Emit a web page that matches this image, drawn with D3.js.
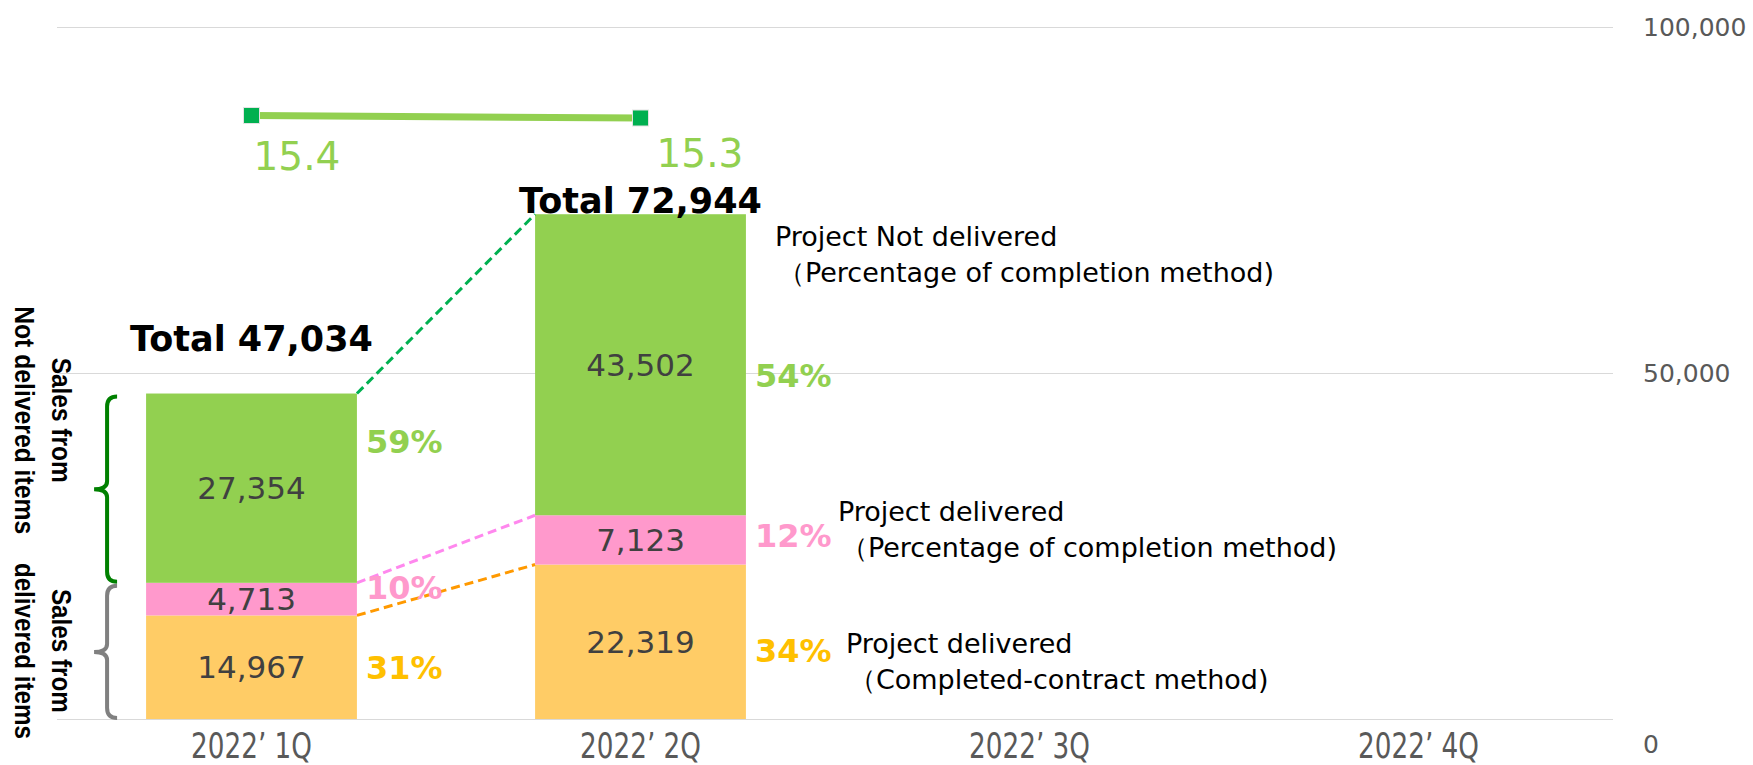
<!DOCTYPE html>
<html>
<head>
<meta charset="utf-8">
<script src="https://cdn.jsdelivr.net/npm/d3@7"></script>
<style>
  body { margin: 0; background: #fff; }
</style>
</head>
<body>
<div id="chart"></div>
<script>

// data
var categories = ["2022’ 1Q", "2022’ 2Q", "2022’ 3Q", "2022’ 4Q"];
var completedContract = [14967, 22319];   // Project delivered (Completed-contract)
var deliveredPoc = [4713, 7123];          // Project delivered (Percentage of completion)
var notDeliveredPoc = [27354, 43502];     // Project Not delivered (Percentage of completion)
var totals = [47034, 72944];
var pctCompleted = [31, 34];
var pctDelivered = [10, 12];
var pctNotDelivered = [59, 54];
var ratioValues = [15.4, 15.3];
var yTicks = [0, 50000, 100000];

var seriesKeys = ["completed", "delivered", "notDelivered"];
var seriesColor = {completed: "#FFCC66", delivered: "#FF99CC", notDelivered: "#92D050"};
var pctColor = {completed: "#FFC000", delivered: "#FF99CC", notDelivered: "#92D050"};
var dashColor = {completed: "#FF9900", delivered: "#FF88EE", notDelivered: "#00B050"};

// set the dimensions and margins of the graph
var margin = {top: 27, right: 140, bottom: 46, left: 57},
    width = 1753 - margin.left - margin.right,
    height = 765 - margin.top - margin.bottom;

var root = d3.select("#chart")
    .append("svg")
    .attr("width", 1753)
    .attr("height", 765);

var svg = root.append("g")
    .attr("transform", "translate(" + margin.left + "," + margin.top + ")");

// table for the stack
var table = completedContract.map(function(d, i) {
    return {
        cat: categories[i],
        completed: completedContract[i],
        delivered: deliveredPoc[i],
        notDelivered: notDeliveredPoc[i]
    };
});
var pcts = {completed: pctCompleted, delivered: pctDelivered, notDelivered: pctNotDelivered};

var stacked = d3.stack().keys(seriesKeys)(table);

// scales
var x = d3.scaleBand()
    .domain(categories)
    .range([0, width])
    .paddingInner(0.458)
    .paddingOuter(0.229);
var bw = x.bandwidth();

var y = d3.scaleLinear()
    .domain([0, 100000])
    .range([height, 0]);

// hidden secondary axis for the ratio line
var y2 = d3.scaleLinear()
    .domain([-8.74, 18.94])
    .range([height, 0]);

// grid + right axis
var yAxis = d3.axisRight(y)
    .tickValues(yTicks)
    .tickSize(-width)
    .tickPadding(30)
    .tickFormat(d3.format(","));

var gy = svg.append("g")
    .attr("class", "y axis")
    .attr("transform", "translate(" + width + ",0)")
    .call(yAxis);
gy.select(".domain").remove();
gy.selectAll("line").attr("stroke", "#d9d9d9").attr("stroke-width", 1);
gy.selectAll("text")
    .attr("fill", "#595959")
    .style("font-size", "25px")
    .style("font-family", "DejaVu Sans");
// the 0 label sits lower in the original
gy.selectAll(".tick text").filter(function(d) { return d === 0; }).attr("dy", "1.35em");

// x labels
svg.append("g")
    .selectAll("text")
    .data(categories)
    .enter()
    .append("text")
    .attr("x", function(d) { return x(d) + bw / 2; })
    .attr("y", height + 39)
    .attr("text-anchor", "middle")
    .attr("fill", "#595959")
    .attr("textLength", 121)
    .attr("lengthAdjust", "spacingAndGlyphs")
    .style("font-size", "36px")
    .style("font-family", "'Liberation Sans Narrow', 'DejaVu Sans Condensed', sans-serif")
    .text(function(d) { return d; });

// stacked bars
var layers = svg.selectAll(".layer")
    .data(stacked)
    .enter()
    .append("g")
    .attr("class", "layer")
    .attr("fill", function(d) { return seriesColor[d.key]; });

layers.selectAll("rect")
    .data(function(d) { return d; })
    .enter()
    .append("rect")
    .attr("x", function(d) { return x(d.data.cat); })
    .attr("y", function(d) { return y(d[1]); })
    .attr("width", bw)
    .attr("height", function(d) { return y(d[0]) - y(d[1]); });

// segment values
layers.selectAll("text.val")
    .data(function(d) { return d; })
    .enter()
    .append("text")
    .attr("class", "val")
    .attr("x", function(d) { return x(d.data.cat) + bw / 2; })
    .attr("y", function(d) { return y((d[0] + d[1]) / 2); })
    .attr("dy", "0.36em")
    .attr("text-anchor", "middle")
    .attr("fill", "#404040")
    .style("font-size", "31px")
    .style("font-family", "DejaVu Sans")
    .text(function(d) { return d3.format(",")(d[1] - d[0]); });

// dashed connectors between bar 1 and bar 2
layers.append("line")
    .attr("x1", function(d) { return x(categories[0]) + bw; })
    .attr("y1", function(d) { return y(d[0][1]); })
    .attr("x2", function(d) { return x(categories[1]); })
    .attr("y2", function(d) { return y(d[1][1]); })
    .attr("stroke", function(d) { return dashColor[d.key]; })
    .attr("stroke-width", 3)
    .style("stroke-dasharray", "9,5");

// percentage labels (nudged like the original)
var pctShift = {
    completed: [0, 9],
    delivered: [-12, -4],
    notDelivered: [-47, 11]
};
layers.selectAll("text.pct")
    .data(function(d) { return d.map(function(s, i) { return {key: d.key, s: s, i: i}; }); })
    .enter()
    .append("text")
    .attr("class", "pct")
    .attr("x", function(d) { return x(d.s.data.cat) + bw + 9; })
    .attr("y", function(d) { return y((d.s[0] + d.s[1]) / 2) + pctShift[d.key][d.i]; })
    .attr("dy", "0.36em")
    .attr("fill", function(d) { return pctColor[d.key]; })
    .style("font-size", "32px")
    .style("font-weight", "bold")
    .style("font-family", "DejaVu Sans")
    .text(function(d) { return pcts[d.key][d.i] + "%"; });

// totals
var totalShift = [-43, -1];
svg.append("g")
    .selectAll("text")
    .data(totals)
    .enter()
    .append("text")
    .attr("x", function(d, i) { return x(categories[i]) + bw / 2; })
    .attr("y", function(d, i) { return y(d) + totalShift[i]; })
    .attr("text-anchor", "middle")
    .attr("fill", "black")
    .style("font-size", "35px")
    .style("font-weight", "bold")
    .style("font-family", "DejaVu Sans")
    .text(function(d) { return "Total " + d3.format(",")(d); });

// ratio line
svg.append("path")
    .datum(ratioValues)
    .attr("fill", "none")
    .attr("stroke", "#92D050")
    .attr("stroke-width", 7)
    .attr("d", d3.line()
        .x(function(d, i) { return x(categories[i]) + bw / 2; })
        .y(function(d) { return y2(d); })
    );

svg.append("g")
    .selectAll("rect")
    .data(ratioValues)
    .enter()
    .append("rect")
    .attr("x", function(d, i) { return x(categories[i]) + bw / 2 - 8; })
    .attr("y", function(d) { return y2(d) - 8; })
    .attr("width", 16)
    .attr("height", 16)
    .attr("fill", "#00B050")
    .attr("stroke", "#e3e3e3")
    .attr("stroke-width", 1);

var ratioLabelShift = [[2, 54], [16, 49]];
svg.append("g")
    .selectAll("text")
    .data(ratioValues)
    .enter()
    .append("text")
    .attr("x", function(d, i) { return x(categories[i]) + bw / 2 + ratioLabelShift[i][0]; })
    .attr("y", function(d, i) { return y2(d) + ratioLabelShift[i][1]; })
    .attr("fill", "#92D050")
    .style("font-size", "39px")
    .style("font-family", "DejaVu Sans")
    .text(function(d) { return d.toFixed(1); });

// notes to the right of bar 2
var notes = [
    {key: "notDelivered", lines: ["Project Not delivered", "（Percentage of completion method)"]},
    {key: "delivered", lines: ["Project delivered", "（Percentage of completion method)"]},
    {key: "completed", lines: ["Project delivered", "（Completed-contract method)"]}
];
var noteShift = {notDelivered: [29, 32], delivered: [92, 6], completed: [100, 88]};
var bar2 = stacked.map(function(l) { return l[1]; });

notes.forEach(function(n) {
    var seg = bar2[seriesKeys.indexOf(n.key)];
    var nx = x(categories[1]) + bw + noteShift[n.key][0];
    var ny = y(seg[1]) + noteShift[n.key][1];
    var t = svg.append("text")
        .attr("fill", "black")
        .style("font-size", "27px")
        .style("font-family", "DejaVu Sans");
    t.append("tspan").attr("x", nx).attr("y", ny).text(n.lines[0]);
    t.append("tspan").attr("x", nx + 3).attr("y", ny + 36).text(n.lines[1]);
});

// braces on the left of bar 1
var b1 = stacked.map(function(l) { return l[0]; });
var braces = [
    {from: b1[2][1], to: b1[2][0], color: "#008000", lines: ["Sales from", "Not delivered items"], len: [125, 228], shift: -69},
    {from: b1[1][1], to: 0, color: "#808080", lines: ["Sales from", "delivered items"], len: [124, 176], shift: -1}
];
var bx = x(categories[0]);

braces.forEach(function(b) {
    var y0 = y(b.from) + 3, y1 = y(b.to) - 1, ym = (y0 + y1) / 2;
    var xr = bx - 29, xv = bx - 39, xt = bx - 52;
    svg.append("path")
        .attr("d", "M" + xr + "," + y0 +
            " Q" + xv + "," + y0 + " " + xv + "," + (y0 + 10) +
            " L" + xv + "," + (ym - 8) +
            " Q" + xv + "," + ym + " " + xt + "," + ym +
            " Q" + xv + "," + ym + " " + xv + "," + (ym + 8) +
            " L" + xv + "," + (y1 - 10) +
            " Q" + xv + "," + y1 + " " + xr + "," + y1)
        .attr("fill", "none")
        .attr("stroke", b.color)
        .attr("stroke-width", 4);

    b.lines.forEach(function(line, k) {
        svg.append("text")
            .attr("transform", "translate(" + (bx - 94 - 37 * k) + "," + (ym + b.shift) + ") rotate(90)")
            .attr("text-anchor", "middle")
            .attr("fill", "black")
            .attr("textLength", b.len[k])
            .attr("lengthAdjust", "spacingAndGlyphs")
            .style("font-size", "27px")
            .style("font-weight", "bold")
            .style("font-family", "'Liberation Sans', sans-serif")
            .text(line);
    });
});

</script>
</body>
</html>
